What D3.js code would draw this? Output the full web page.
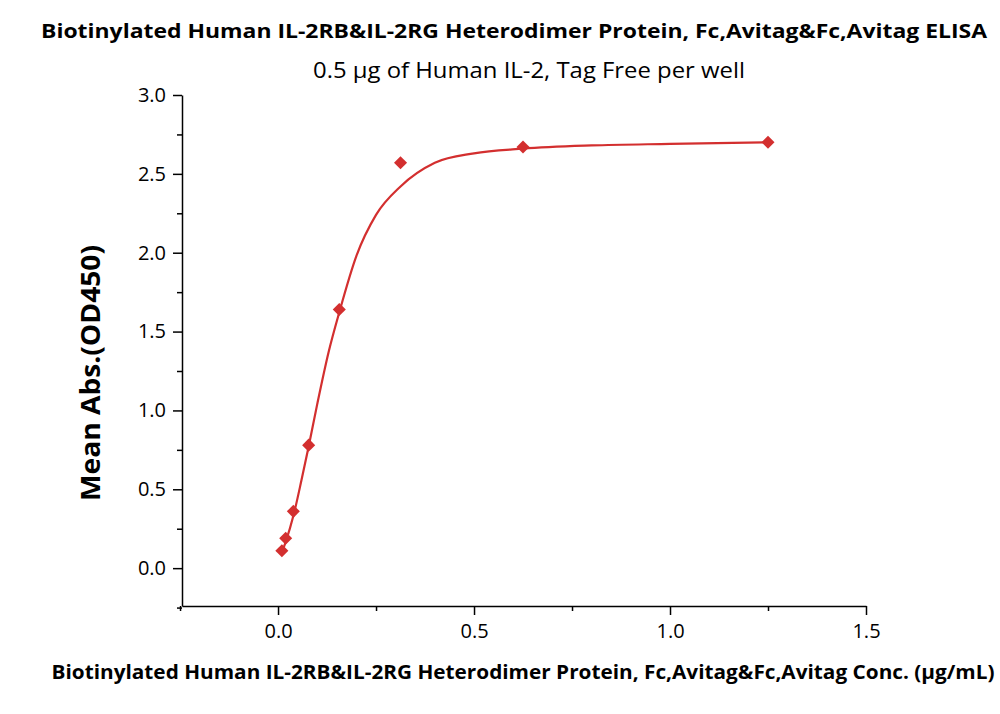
<!DOCTYPE html>
<html>
<head>
<meta charset="utf-8">
<style>
  body { margin: 0; background: #fff; }
  text { font-family: "Open Sans", "Noto Sans", sans-serif; }
</style>
</head>
<body>
<svg id="chart" width="1000" height="714"></svg>
<script src="https://d3js.org/d3.v7.min.js"></script>
<script>
  // measured points
  const conc = [1.25, 0.625, 0.3125, 0.15625, 0.078125, 0.0390625, 0.01953125, 0.009765625];
  const od = [2.70, 2.67, 2.57, 1.64, 0.78, 0.36, 0.19, 0.11];

  // fitted curve
  const fitX = [0.0098, 0.02, 0.04, 0.06, 0.078, 0.1, 0.13, 0.156, 0.2, 0.25, 0.3125, 0.4, 0.5, 0.625, 0.8, 1.0, 1.25];
  const fitY = [0.10, 0.17, 0.34, 0.56, 0.77, 1.04, 1.38, 1.62, 1.98, 2.24, 2.42, 2.57, 2.63, 2.66, 2.68, 2.69, 2.70];

  const xTicks = [0.0, 0.5, 1.0, 1.5];
  const yTicks = [0.0, 0.5, 1.0, 1.5, 2.0, 2.5, 3.0];

  const svg = d3.select("#chart");
  const color = "#d32f2f";

  const x = d3.scaleLinear().domain([-0.245, 1.5]).range([182, 866]);
  const y = d3.scaleLinear().domain([-0.24, 3.0]).range([606, 95]);

  // y axis
  const yAxis = svg.append("g")
    .attr("transform", "translate(182,0)")
    .call(d3.axisLeft(y).tickValues(yTicks).tickFormat(d3.format(".1f")).tickSize(9).tickSizeOuter(0));
  svg.append("g")
    .attr("transform", "translate(182,0)")
    .call(d3.axisLeft(y).tickValues([-0.25, 0.25, 0.75, 1.25, 1.75, 2.25, 2.75]).tickFormat("").tickSize(5).tickSizeOuter(0))
    .select(".domain").remove();

  // x axis
  const xAxis = svg.append("g")
    .attr("transform", "translate(0,606)")
    .call(d3.axisBottom(x).tickValues(xTicks).tickFormat(d3.format(".1f")).tickSize(9).tickSizeOuter(0));
  svg.append("g")
    .attr("transform", "translate(0,606)")
    .call(d3.axisBottom(x).tickValues([-0.25, 0.25, 0.75, 1.25]).tickFormat("").tickSize(5).tickSizeOuter(0))
    .select(".domain").remove();

  svg.selectAll(".domain").attr("stroke", "#000").attr("stroke-width", 1.5);
  svg.selectAll(".tick line").attr("stroke", "#000").attr("stroke-width", 1.5);
  svg.selectAll(".tick text").attr("font-size", 20).attr("fill", "#000")
    .style("font-family", "'Open Sans', sans-serif");
  yAxis.selectAll(".tick text").attr("x", -16);
  xAxis.selectAll(".tick text").attr("y", 18);

  // curve
  const line = d3.line().x(d => x(d[0])).y(d => y(d[1])).curve(d3.curveMonotoneX);
  svg.append("path")
    .datum(d3.zip(fitX, fitY))
    .attr("d", line)
    .attr("fill", "none")
    .attr("stroke", color)
    .attr("stroke-width", 2.2);

  // points (square diamonds)
  svg.append("g").selectAll("path")
    .data(d3.zip(conc, od))
    .enter().append("path")
    .attr("d", d3.symbol().type(d3.symbolSquare).size(85))
    .attr("transform", d => `translate(${x(d[0])},${y(d[1])}) rotate(45)`)
    .attr("fill", color);

  // titles
  svg.append("text").attr("x", 514).attr("y", 38).attr("text-anchor", "middle")
    .attr("font-size", 20).attr("font-weight", "bold")
    .attr("textLength", 946).attr("lengthAdjust", "spacingAndGlyphs")
    .text("Biotinylated Human IL-2RB&IL-2RG Heterodimer Protein, Fc,Avitag&Fc,Avitag ELISA");
  svg.append("text").attr("x", 529).attr("y", 78).attr("text-anchor", "middle")
    .attr("font-size", 21)
    .attr("textLength", 432).attr("lengthAdjust", "spacingAndGlyphs")
    .text("0.5 μg of Human IL-2, Tag Free per well");
  svg.append("text").attr("x", 523).attr("y", 679).attr("text-anchor", "middle")
    .attr("font-size", 19).attr("font-weight", "bold")
    .attr("textLength", 943).attr("lengthAdjust", "spacingAndGlyphs")
    .text("Biotinylated Human IL-2RB&IL-2RG Heterodimer Protein, Fc,Avitag&Fc,Avitag Conc. (μg/mL)");
  svg.append("text").attr("transform", "translate(100,373) rotate(-90)").attr("text-anchor", "middle")
    .attr("font-size", 26).attr("font-weight", "bold")
    .attr("textLength", 256).attr("lengthAdjust", "spacingAndGlyphs")
    .text("Mean Abs.(OD450)");
</script>
</body>
</html>
